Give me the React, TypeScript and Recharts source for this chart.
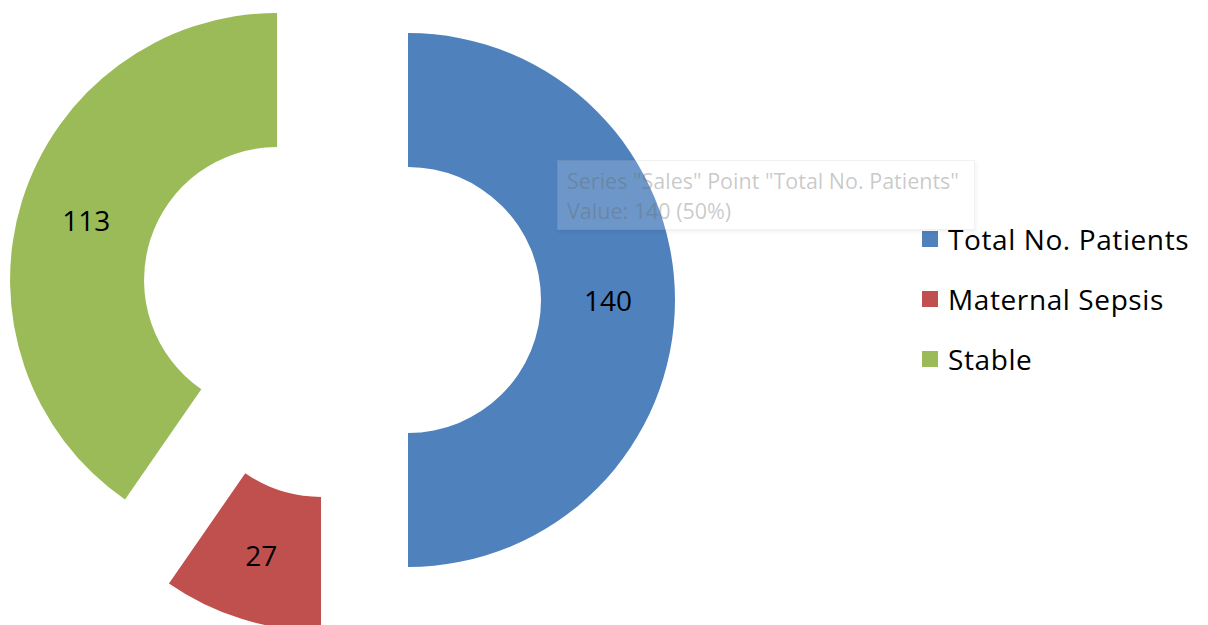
import { Cell, Legend, Pie, PieChart } from "recharts"

// slice values
const categories = ["Total No. Patients", "Maternal Sepsis", "Stable"]
const patients = [140, 27, 113]
const colors = ["#4f81bd", "#c0504d", "#9bbb59"]

const data = categories.map((name, i) => ({ name, value: patients[i] }))

const RAD = Math.PI / 180
const CX = 336 // chart margin of 5px is added by recharts
const CY = 295
const EXPLODE = 67 // how far each slice is pulled out
const INNER = 133
const OUTER = 267
const FONT = "'Open Sans', sans-serif"

// mid angle of each slice, clockwise from 12 o'clock
const total = patients.reduce((a, b) => a + b, 0)
const midAngles = (() => {
  let acc = 0
  return patients.map((v) => {
    const start = acc
    acc += (v / total) * 360
    return (start + acc) / 2
  })
})()

const renderLabel = (target: number) => (props: any) => {
  const { cx, cy, midAngle, innerRadius, outerRadius, index, value } = props
  if (index !== target) return null
  const r = (innerRadius + outerRadius) / 2
  const x = cx + r * Math.cos(-midAngle * RAD)
  const y = cy + r * Math.sin(-midAngle * RAD)
  return (
    <text x={x} y={y} fill="#000" textAnchor="middle" dominantBaseline="central" fontSize={28} fontFamily={FONT}>
      {value}
    </text>
  )
}

const renderLegend = () => (
  <div style={{ fontFamily: FONT, fontSize: 28, letterSpacing: 0.6, color: "#000" }}>
    {categories.map((c, i) => (
      <div key={c} style={{ display: "flex", alignItems: "center", height: 60 }}>
        <span style={{ display: "inline-block", width: 16, height: 16, background: colors[i], marginRight: 10 }} />
        <span>{c}</span>
      </div>
    ))}
  </div>
)

export default function App() {
  return (
    <div style={{ position: "absolute", left: 0, top: 0, width: 1208, height: 625, background: "#fff", overflow: "hidden" }}>
      <PieChart width={1208} height={625}>
        {patients.map((_, k) => {
          const a = midAngles[k] * RAD
          return (
            <Pie
              key={k}
              data={data}
              dataKey="value"
              nameKey="name"
              cx={CX + EXPLODE * Math.sin(a)}
              cy={CY - EXPLODE * Math.cos(a)}
              innerRadius={INNER}
              outerRadius={OUTER}
              startAngle={90}
              endAngle={-270}
              stroke="none"
              label={renderLabel(k)}
              labelLine={false}
              isAnimationActive={false}
            >
              {data.map((d, i) => (
                <Cell key={d.name} fill={i === k ? colors[i] : "none"} />
              ))}
            </Pie>
          )
        })}
        <Legend
          layout="vertical"
          content={renderLegend}
          wrapperStyle={{ position: "absolute", left: 922, top: 209, width: 286 }}
        />
      </PieChart>
      <div
        style={{
          position: "absolute",
          left: 557,
          top: 160,
          width: 418,
          height: 70,
          boxSizing: "border-box",
          padding: "5px 9px",
          background: "rgba(255,255,255,0.18)",
          border: "1px solid rgba(0,0,0,0.05)",
          boxShadow: "1px 2px 4px rgba(0,0,0,0.06)",
          color: "rgba(100,100,100,0.35)",
          fontFamily: FONT,
          fontSize: 21.5,
          lineHeight: "30px",
          whiteSpace: "nowrap",
        }}
      >
        <div>Series "Sales" Point "Total No. Patients"</div>
        <div>Value: 140 (50%)</div>
      </div>
    </div>
  )
}
